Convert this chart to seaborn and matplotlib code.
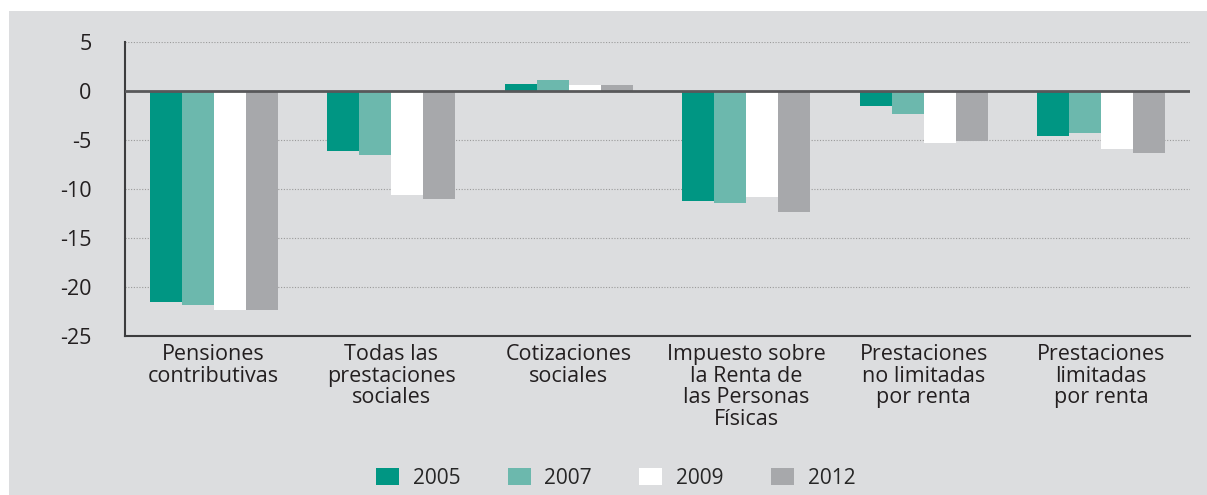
import matplotlib
matplotlib.use("Agg")
import matplotlib.pyplot as plt
import matplotlib.patches as mpatches
import seaborn as sns
import pandas as pd
import numpy as np

categories = [
    "Pensiones\ncontributivas",
    "Todas las\nprestaciones\nsociales",
    "Cotizaciones\nsociales",
    "Impuesto sobre\nla Renta de\nlas Personas\nFísicas",
    "Prestaciones\nno limitadas\npor renta",
    "Prestaciones\nlimitadas\npor renta",
]
years = ["2005", "2007", "2009", "2012"]
v2005 = [-21.6, -6.15, 0.68, -11.25, -1.56, -4.62]
v2007 = [-21.9, -6.55, 1.09, -11.45, -2.37, -4.32]
v2009 = [-22.4, -10.6, 0.58, -10.85, -5.33, -5.95]
v2012 = [-22.4, -11.05, 0.6, -12.4, -5.13, -6.36]
yticks = [5, 0, -5, -10, -15, -20, -25]

colors = ["#009683", "#6cb8ad", "#ffffff", "#a7a8ab"]
bg = "#dcdddf"
dark = "#3c3c3e"
txt = "#231f20"

rows = []
for yr, vals in zip(years, [v2005, v2007, v2009, v2012]):
    for c, v in zip(categories, vals):
        rows.append({"cat": c, "year": yr, "val": v})
df = pd.DataFrame(rows)

sns.set_theme(style="white")
plt.rcParams["font.family"] = ["Open Sans", "DejaVu Sans"]

fig = plt.figure(figsize=(12.07, 4.95), dpi=100, facecolor="white")
fig.patches.append(mpatches.Rectangle((9 / 1207, 0), 1, 1 - 11 / 495,
                                      transform=fig.transFigure,
                                      facecolor=bg, edgecolor="none", zorder=-10))
ax = fig.add_axes([125 / 1207, 1 - 335.7 / 495, (1190 - 125) / 1207, (335.7 - 41.7) / 495])
ax.set_facecolor(bg)

sns.barplot(data=df, x="cat", y="val", hue="year", order=categories, hue_order=years,
            palette=colors, width=0.72, saturation=1, edgecolor="none", linewidth=0,
            ax=ax, legend=False, zorder=3)

ax.set_ylim(-25, 5)
ax.set_xlim(-0.5, len(categories) - 0.5)
ax.set_yticks(yticks)
ax.set_yticklabels([str(t) for t in yticks], fontsize=15.5, color=txt)
for t in yticks:
    if t not in (0, -25):
        ax.axhline(t, color="#9a9a9a", lw=0.8, ls=(0, (1, 1.5)), zorder=1)
ax.axhline(0, color="#58585a", lw=2, zorder=4)

ax.set_xticks(range(len(categories)))
ax.set_xticklabels(categories, fontsize=15.5, color=txt, linespacing=1.04)
ax.set_xticks(np.arange(-0.5, len(categories), 1.0), minor=True)
ax.tick_params(axis="x", which="major", length=0, pad=6)
ax.tick_params(axis="x", which="minor", length=5, width=1.2, color=dark, direction="out")
ax.tick_params(axis="y", length=12, width=1.2, color=dark, direction="out", pad=12)

for s in ["top", "right"]:
    ax.spines[s].set_visible(False)
for s in ["left", "bottom"]:
    ax.spines[s].set_color(dark)
    ax.spines[s].set_linewidth(1.5)
ax.set_xlabel("")
ax.set_ylabel("")

handles = [mpatches.Patch(facecolor=c, edgecolor="none", label=y) for c, y in zip(colors, years)]
fig.legend(handles=handles, loc="center", bbox_to_anchor=(0.51, 0.034), ncol=4,
           frameon=False, fontsize=15, handlelength=1.1, handleheight=0.91,
           handletextpad=0.67, columnspacing=2.26, borderaxespad=0, borderpad=0)

fig.savefig("out.png", dpi=100, facecolor="white")
